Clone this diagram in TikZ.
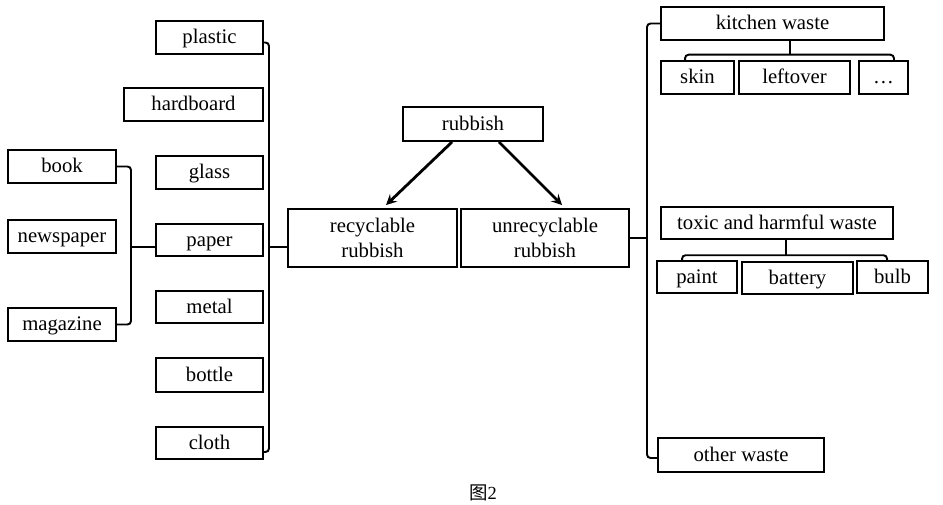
\documentclass[tikz,border=0pt]{standalone}
\usepackage{fontspec}
\setmainfont{Liberation Serif}
\newfontfamily\cjk{Noto Sans CJK SC}
\usetikzlibrary{positioning}

\begin{document}
\begin{tikzpicture}[x=0.02cm, y=-0.02cm,
  box/.style={draw, line width=1.1pt, inner sep=0pt, align=center,
    minimum height=0.65cm, font=\fontsize{11.8}{14.4}\selectfont},
  item/.style={box, text height=9.4pt, text depth=2.4pt},
  link/.style={line width=1.1pt, rounded corners=2pt},
  arrow/.style={line width=1.6pt, -stealth}]
\useasboundingbox (0,0) rectangle (943,504);

%recyclable side
\begin{scope}{
\node[item, minimum width=2.14cm] (plastic) at (209.5,37.5) {plastic};
\node[item, minimum width=2.78cm] (hardboard) at (193.5,104.5) {hardboard};
\node[item, minimum width=2.14cm] (glass) at (209.5,172.5) {glass};
\node[item, minimum width=2.14cm] (paper) at (209.5,240) {paper};
\node[item, minimum width=2.14cm] (metal) at (209.5,307) {metal};
\node[item, minimum width=2.14cm, minimum height=0.68cm] (bottle) at (209.5,375) {bottle};
\node[item, minimum width=2.14cm] (cloth) at (209.5,443) {cloth};

\node[item, minimum width=2.16cm] (book) at (62,166.5) {book};
\node[item, minimum width=2.16cm] (newspaper) at (62,236.5) {newspaper};
\node[item, minimum width=2.16cm] (magazine) at (62,324.5) {magazine};

%brackets
\coordinate (lbar) at (131,247);
\coordinate (rbar) at (269,247);
\draw[link] (book.east) -| (lbar) |- (magazine.east);
\draw[link] (lbar) -- (lbar -| paper.west);
\draw[link] ([yshift=-0.1cm]plastic.east) -| (rbar) |- ([yshift=-0.18cm]cloth.east);
} \end{scope}

%centre
\node[item, minimum width=2.8cm, minimum height=0.68cm] (rubbish) at (473,124) {rubbish};
\node[box, minimum width=3.38cm, minimum height=1.16cm] (recyc) at (372.5,238) {recyclable\\rubbish};
\node[box, minimum width=3.36cm, minimum height=1.16cm] (unrecyc) at (545,238) {unrecyclable\\rubbish};

\draw[link] (rbar) -- (rbar -| recyc.west);
\draw[arrow] ([xshift=1cm]rubbish.south west) -- ([xshift=1.98cm, yshift=0.06cm]recyc.north west);
\draw[arrow] ([xshift=-0.9cm]rubbish.south east) -- ([xshift=2.04cm, yshift=0.06cm]unrecyc.north west);

%unrecyclable side
\begin{scope}{
\node[item, minimum width=4.46cm] (kitchen) at (772.5,23.5) {kitchen waste};
\node[item, minimum width=1.46cm] (skin) at (697.5,77.5) {skin};
\node[item, minimum width=2.22cm] (leftover) at (794.5,77.5) {leftover};
\node[item, minimum width=0.98cm] (dots) at (883.5,77.5) {\dots};

\node[item, minimum width=4.64cm] (toxic) at (777,223) {toxic and harmful waste};
\node[item, minimum width=1.6cm] (paint) at (697,277) {paint};
\node[item, minimum width=2.22cm] (battery) at (797.5,278) {battery};
\node[item, minimum width=1.42cm] (bulb) at (892.5,277) {bulb};

\node[item, minimum width=3.32cm, minimum height=0.68cm] (other) at (741,455) {other waste};

%trees
\draw[link] ([xshift=0.35cm]kitchen.south) -- ++(0,14) coordinate (kt);
\draw[link] ([xshift=0.5cm]skin.north west) |- (kt) -| ([xshift=-0.3cm]dots.north east);
\draw[link] ([xshift=0.18cm]toxic.south) -- ++(0,15) coordinate (tt);
\draw[link] ([xshift=0.52cm]paint.north west) |- (tt) -| ([xshift=0.62cm]bulb.north west);

\coordinate (ubar) at (647,238);
\draw[link] (kitchen.west) -| (ubar) |- ([yshift=-0.06cm]other.west);
\draw[link] (unrecyc.east) -- (ubar);
} \end{scope}

\node (caption) at (483,493) {\fontsize{10.5}{12}\selectfont{\cjk 图}2};

\end{tikzpicture}
\end{document}
